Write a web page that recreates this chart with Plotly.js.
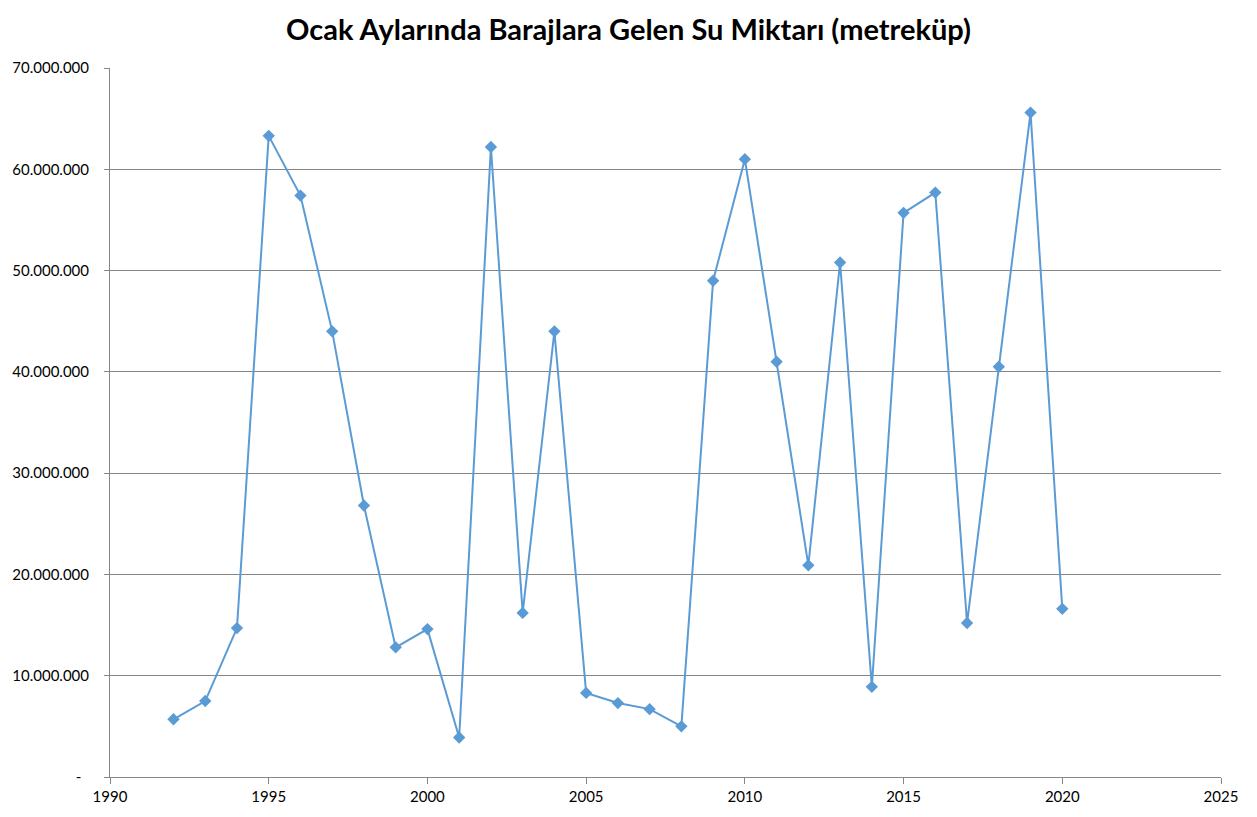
<!DOCTYPE html>
<html>
<head>
<meta charset="utf-8">
<script src="https://cdn.plot.ly/plotly-3.0.1.min.js"></script>
<style>html,body{margin:0;padding:0;background:#fff;}#chart{width:1257px;height:817px;}</style>
</head>
<body>
<div id="chart"></div>
<script>
const years = [1992,1993,1994,1995,1996,1997,1998,1999,2000,2001,2002,2003,2004,2005,2006,2007,2008,2009,2010,2011,2012,2013,2014,2015,2016,2017,2018,2019,2020];
const waterM3 = [5700000,7500000,14700000,63300000,57400000,44000000,26800000,12800000,14600000,3900000,62200000,16200000,44000000,8300000,7300000,6700000,5000000,49000000,61000000,41000000,20900000,50800000,8900000,55700000,57700000,15200000,40500000,65600000,16600000];
const yTickVals = [0,10000000,20000000,30000000,40000000,50000000,60000000,70000000];
const yTickText = ['-\u00a0\u00a0','10.000.000','20.000.000','30.000.000','40.000.000','50.000.000','60.000.000','70.000.000'];
const xTickVals = [1990,1995,2000,2005,2010,2015,2020,2025];

const trace = {
  x: years, y: waterM3, type: 'scatter', mode: 'lines+markers',
  line: {color: '#5B9BD5', width: 2},
  marker: {symbol: 'diamond', size: 9.5, color: '#5B9BD5'},
  hoverinfo: 'x+y'
};
const layout = {
  width: 1257, height: 817,
  margin: {l: 110, r: 36, t: 68, b: 40},
  paper_bgcolor: '#fff', plot_bgcolor: '#fff',
  font: {family: 'Lato, "Open Sans", sans-serif', size: 15, color: '#000'},
  title: {text: 'Ocak Aylarında Barajlara Gelen Su Miktarı (metreküp)', font: {family: 'Lato, "Open Sans", sans-serif', size: 29, color: '#000', weight: 'bold'}, x: 0.5, xanchor: 'center', y: 0.963, yanchor: 'middle'},
  showlegend: false,
  xaxis: {range: [1990, 2025], tickvals: xTickVals, ticktext: xTickVals.map(String), showgrid: false, zeroline: false,
    showline: true, linecolor: '#868686', linewidth: 1, ticks: 'outside', ticklen: 6, tickcolor: '#868686', tickfont: {size: 15}},
  yaxis: {range: [0, 70000000], tickvals: yTickVals, ticktext: yTickText, showgrid: true, gridcolor: '#868686', gridwidth: 1, zeroline: false,
    showline: true, linecolor: '#868686', linewidth: 1, ticks: 'outside', ticklen: 5, tickcolor: '#868686', ticklabelstandoff: 12, tickfont: {size: 15}}
};
Plotly.newPlot('chart', [trace], layout, {displayModeBar: false});
</script>
</body>
</html>
